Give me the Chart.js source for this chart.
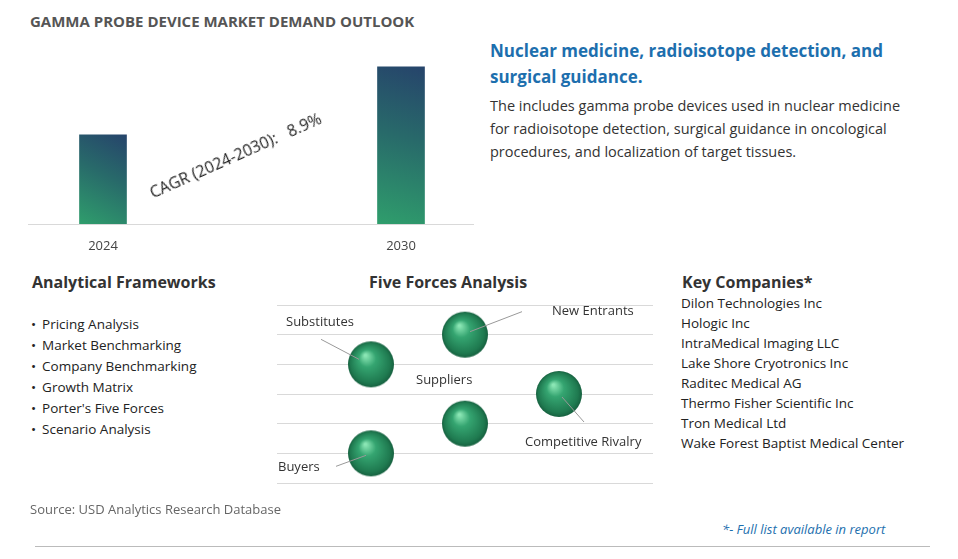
<!DOCTYPE html>
<html>
<head>
<meta charset="utf-8">
<script src="https://cdn.jsdelivr.net/npm/chart.js@4"></script>
<style>
  body { margin: 0; width: 958px; height: 559px; background: #fff; font-family: "Open Sans", sans-serif; position: relative; overflow: hidden; }
  .abs { position: absolute; }
  #title { left: 30px; top: 11px; font-size: 15px; font-weight: bold; color: #555; }
  #head { left: 490px; top: 38px; font-size: 17px; font-weight: bold; color: #1d6fae; line-height: 26px; }
  #desc { left: 490px; top: 94px; font-size: 14.5px; color: #333; line-height: 23px; }
  #cagr { left: 146px; top: 183px; font-size: 16px; color: #222; transform: rotate(-24deg); transform-origin: left top; white-space: pre; }
  .h2 { font-size: 16px; font-weight: bold; color: #333; }
  ul { margin: 0; padding: 0; list-style: none; font-size: 13.5px; color: #222; line-height: 21px; }
  ul li:before { content: "\2022"; margin-right: 6px; }
  #comp { font-size: 13.5px; color: #222; line-height: 20px; }
</style>
</head>
<body>
<div id="title" class="abs">GAMMA PROBE DEVICE MARKET DEMAND OUTLOOK</div>
<div class="abs" style="left:28px;top:40px;width:446px;height:220px"><canvas id="barChart"></canvas></div>
<div class="abs" style="left:28px;top:224px;width:446px;height:1px;background:#d9d9d9"></div>
<div id="cagr" class="abs">CAGR (2024-2030):   8.9%</div>
<div id="head" class="abs">Nuclear medicine, radioisotope detection, and<br>surgical guidance.</div>
<div id="desc" class="abs">The includes gamma probe devices used in nuclear medicine<br>for radioisotope detection, surgical guidance in oncological<br>procedures, and localization of target tissues.</div>

<div class="abs h2" style="left:32px;top:271px">Analytical Frameworks</div>
<ul class="abs" style="left:31px;top:314px">
  <li>Pricing Analysis</li><li>Market Benchmarking</li><li>Company Benchmarking</li>
  <li>Growth Matrix</li><li>Porter's Five Forces</li><li>Scenario Analysis</li>
</ul>

<div class="abs h2" style="left:369px;top:271px">Five Forces Analysis</div>
<div class="abs" style="left:253px;top:281px;width:424px;height:226px"><canvas id="forceChart"></canvas></div>

<div class="abs h2" style="left:682px;top:271px">Key Companies*</div>
<div id="comp" class="abs" style="left:681px;top:293px">
  Dilon Technologies Inc<br>Hologic Inc<br>IntraMedical Imaging LLC<br>Lake Shore Cryotronics Inc<br>Raditec Medical AG<br>Thermo Fisher Scientific Inc<br>Tron Medical Ltd<br>Wake Forest Baptist Medical Center
</div>

<div class="abs" style="left:30px;top:500px;font-size:13px;color:#666">Source: USD Analytics Research Database</div>
<div class="abs" style="left:722px;top:520px;font-size:13px;color:#1d6fae;font-style:italic">*- Full list available in report</div>
<div class="abs" style="left:35px;top:546px;width:895px;height:1px;background:#bbb"></div>

<script>
// Market outlook bars (relative size)
const years = ['2024', '2030'];
const demand = [1.0, 1.76];

// Five forces bubble positions
const forces = ['Substitutes', 'New Entrants', 'Competitive Rivalry', 'Suppliers', 'Buyers'];
const forceX = [2.5, 5, 7.5, 5, 2.5];
const forceY = [4, 5, 3, 2, 1];

// Function to build sphere image for points
function makeSphere(r) {
    const c = document.createElement('canvas');
    c.width = c.height = r * 2 + 2;
    const g = c.getContext('2d');
    const grad = g.createRadialGradient(r * 0.8, r * 0.65, 1, r + 1, r + 1, r);
    grad.addColorStop(0, '#8ae6b4');
    grad.addColorStop(0.35, '#35a571');
    grad.addColorStop(0.85, '#1f7a50');
    grad.addColorStop(1, '#176140');
    g.fillStyle = grad;
    g.beginPath();
    g.arc(r + 1, r + 1, r, 0, Math.PI * 2);
    g.fill();
    return c;
}

function initBarChart() {
    const ctx = document.getElementById('barChart').getContext('2d');
    new Chart(ctx, {
        type: 'bar',
        data: {
            labels: years,
            datasets: [{
                data: demand,
                barThickness: 47,
                clip: false,
                backgroundColor: function(context) {
                    const chart = context.chart;
                    const area = chart.chartArea;
                    if (!area) return '#2b6a6a';
                    const cx = chart.scales.x.getPixelForValue(context.dataIndex);
                    const top = chart.scales.y.getPixelForValue(demand[context.dataIndex]);
                    const g = chart.ctx.createLinearGradient(cx - 24, area.bottom, cx + 24, top);
                    g.addColorStop(0, '#2f9e6c');
                    g.addColorStop(0.55, '#286a6a');
                    g.addColorStop(1, '#26446b');
                    return g;
                }
            }]
        },
        options: {
            responsive: true,
            maintainAspectRatio: false,
            animation: false,
            layout: { padding: { left: 75, right: 73, top: 0, bottom: 0 } },
            plugins: { legend: { display: false }, tooltip: { enabled: false } },
            scales: {
                x: {
                    offset: false,
                    grid: { display: false },
                    border: { display: false },
                    ticks: { color: '#444', font: { family: 'Open Sans', size: 13 }, padding: 6 }
                },
                y: { display: false, min: 0, max: 2.06 }
            }
        }
    });
}

// Leader lines and labels next to each sphere
const labelPlugin = {
    id: 'forceLabels',
    afterDatasetsDraw(chart) {
        const ctx = chart.ctx;
        const pts = chart.getDatasetMeta(0).data;
        const spec = [
            { dx: -50, dy: -25, lx: -12, ly: -5, tx: -85, ty: -42 },
            { dx: 57, dy: -23, lx: 5, ly: -3, tx: 87, ty: -23 },
            { dx: 25, dy: 28, lx: 3, ly: 3, tx: -34, ty: 48 },
            { tx: -49, ty: -43, noLine: true },
            { dx: -35, dy: 13, lx: -5, ly: 2, tx: -93, ty: 14 }
        ];
        ctx.save();
        ctx.font = '13px "Open Sans"';
        ctx.fillStyle = '#333';
        ctx.strokeStyle = '#999';
        ctx.textBaseline = 'middle';
        ctx.textAlign = 'left';
        pts.forEach((p, i) => {
            const s = spec[i];
            if (!s.noLine) {
                ctx.beginPath();
                ctx.moveTo(p.x + s.lx, p.y + s.ly);
                ctx.lineTo(p.x + s.dx, p.y + s.dy);
                ctx.stroke();
            }
            ctx.fillText(forces[i], p.x + s.tx, p.y + s.ty);
        });
        ctx.restore();
    }
};

function initForceChart() {
    const ctx = document.getElementById('forceChart').getContext('2d');
    new Chart(ctx, {
        type: 'scatter',
        data: {
            datasets: [{
                data: forceX.map((x, i) => ({ x: x, y: forceY[i] })),
                pointStyle: makeSphere(23),
                pointRadius: 23,
                clip: false
            }]
        },
        options: {
            responsive: true,
            maintainAspectRatio: false,
            animation: false,
            layout: { padding: 0 },
            plugins: { legend: { display: false }, tooltip: { enabled: false } },
            scales: {
                x: { display: false, min: 0, max: 10 },
                y: {
                    min: 0, max: 6,
                    afterFit: function(scale) { scale.width = 0; },
                    ticks: { display: false, stepSize: 1 },
                    border: { display: false },
                    grid: { color: '#d9d9d9', drawTicks: false }
                }
            }
        },
        plugins: [labelPlugin]
    });
}

document.addEventListener('DOMContentLoaded', function() {
    initBarChart();
    initForceChart();
});
</script>
</body>
</html>
